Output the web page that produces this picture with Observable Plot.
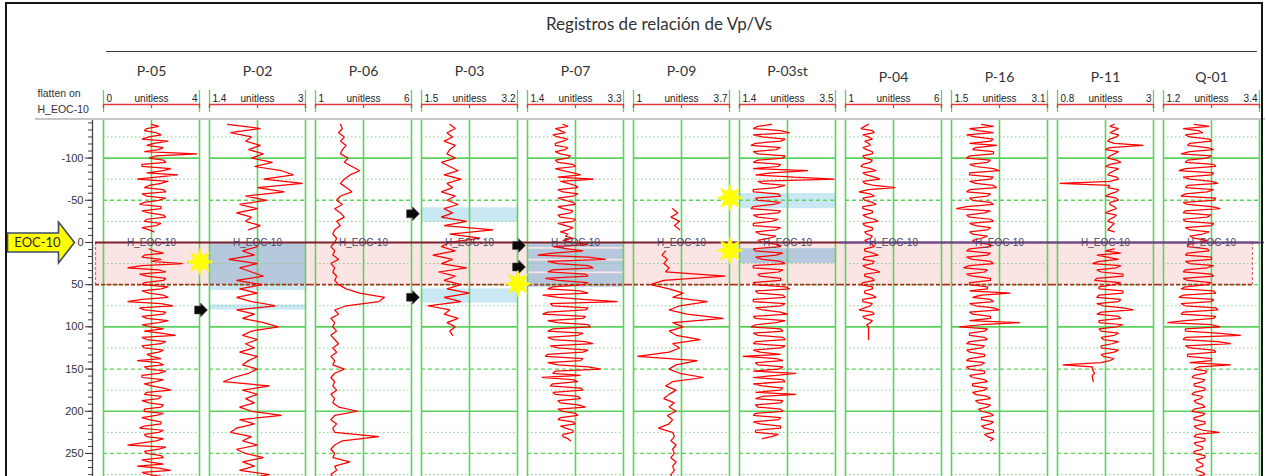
<!DOCTYPE html>
<html><head><meta charset="utf-8">
<script src="https://cdn.jsdelivr.net/npm/d3@7"></script>
<script src="https://cdn.jsdelivr.net/npm/@observablehq/plot@0.6"></script>
<style>
html,body{margin:0;padding:0;background:#fff;}
#wrap{position:relative;width:1267px;height:476px;overflow:hidden;background:#fff;font-family:"Liberation Sans",Arial,sans-serif;}
#chart{position:absolute;left:0;top:0;}
.title{position:absolute;left:539px;width:240px;top:13px;text-align:center;font-family:Lato,"Open Sans",sans-serif;font-size:17px;color:#333;white-space:nowrap;}
.hline{position:absolute;height:0;}
.frame{position:absolute;left:5px;top:2px;width:1258px;height:520px;border:2px solid #151515;box-sizing:border-box;pointer-events:none;}
</style></head>
<body>
<div id="wrap">
  <div id="chart"></div>
  <div class="title">Registros de relación de Vp/Vs</div>
  <div class="hline" style="left:106px;top:51px;width:1151px;border-top:1.5px solid #3a3a3a"></div>
  <div class="hline" style="left:35px;top:118px;width:1230px;border-top:2px solid #c6c6c6"></div>
  <div class="frame"></div>
</div>
<script>
// ---------- data ----------
const wells    = ["P-05","P-02","P-06","P-03","P-07","P-09","P-03st","P-04","P-16","P-11","Q-01"];
const scaleMin = [0, 1.4, 1, 1.5, 1.4, 1, 1.4, 1, 1.5, 0.8, 1.2];
const scaleMax = [4, 3, 6, 3.2, 3.3, 3.7, 3.5, 6, 3.1, 3, 3.4];
const scaleUnit = "unitless";
const horizonName = "H_EOC-10";
const zoneTop = 0, zoneBase = 50;             // H_EOC-10 and base of highlighted zone
const depthStart = -140, depthStep = 5;       // samples at -140, -135, ...
const midStart = -137.5;                      // in-between samples at -137.5, -132.5, ...

const vpvsP05 = [2.0,1.8,2.2,1.9,2.7,1.8,2.3,3.9,1.9,2.6,
  1.6,2.5,3.1,1.4,2.4,1.7,2.6,1.8,2.3,1.5,
  2.4,1.9,2.6,1.7,2.2,1.9,null,null,null,null,
  2.1,1.7,2.4,3.3,1.0,2.6,1.8,2.5,1.6,2.4,
  1.9,2.7,1.0,2.9,1.7,2.5,1.8,2.3,2.0,1.7,
  3.0,1.8,2.4,1.7,2.3,2.0,1.4,2.5,1.9,2.3,
  1.6,2.2,2.0,2.8,1.7,2.3,1.9,2.4,1.7,2.2,
  1.9,2.4,1.5,2.3,1.8,2.2,1.0,2.3,1.8,2.5,
  1.9,1.4,2.8,1.9,2.2];
const vpvsP05mid = [2.3,1.7,2.4,1.6,2.1,2.5,1.7,2.2,2.5,1.6,
  2.8,1.8,2.2,2.7,1.9,2.5,1.6,2.6,1.7,2.4,
  1.6,2.5,1.8,2.4,1.6,2.1,null,null,null,1.9,
  2.5,1.6,2.0,1.6,2.3,1.5,2.6,1.7,2.7,1.6,
  2.5,1.6,2.4,1.5,2.6,1.6,2.7,1.6,2.5,2.4,
  1.6,2.6,1.6,2.5,1.8,2.4,2.3,1.7,2.6,1.6,
  2.5,1.7,2.5,1.8,2.4,1.6,2.5,1.7,2.5,1.6,
  2.4,1.7,2.5,1.7,2.5,1.6,2.6,1.7,2.4,1.6,
  2.5,2.3,1.6,2.5,1.7];
const vpvsP02 = [1.7,2.25,1.75,2.1,2.0,2.25,2.05,2.3,2.1,2.45,
  2.15,2.6,2.8,2.3,2.95,2.2,2.65,2.0,2.35,1.9,
  2.2,1.85,2.1,2.0,2.25,2.05,null,null,null,2.2,
  1.95,2.15,1.72,2.2,1.9,2.1,2.3,1.85,2.28,1.9,
  2.2,1.85,2.1,2.5,1.85,2.15,1.95,2.3,2.55,2.1,
  1.95,2.2,2.0,2.15,1.9,2.2,2.05,1.95,2.2,2.05,
  1.8,1.63,2.4,1.95,2.2,2.0,2.15,1.9,2.1,2.6,
  1.9,2.15,1.85,1.75,2.1,1.95,2.2,1.85,2.0,2.3,
  1.95,2.15,1.9,2.4,2.0];
const vpvsP06 = [2.3,2.4,2.2,2.5,2.3,2.6,2.4,2.3,2.7,2.5,
  2.9,3.3,2.8,2.5,2.3,2.6,2.9,2.3,2.1,2.4,
  2.0,2.3,2.5,2.1,2.3,2.0,1.9,2.1,2.0,1.8,
  2.0,1.9,2.2,1.8,2.0,1.9,2.1,2.0,2.2,2.6,
  3.3,4.6,4.3,2.6,2.0,2.2,1.8,2.0,1.9,2.1,
  1.8,2.0,2.2,1.9,2.1,1.8,2.0,1.9,2.5,2.0,
  1.8,2.0,1.9,2.1,1.8,2.0,1.9,2.2,3.2,2.0,
  1.8,2.1,1.9,2.0,4.3,2.4,2.0,1.8,2.0,1.9,
  2.8,2.0,2.1,1.8,2.0];
const vpvsP03 = [2.0,2.1,1.95,2.05,1.9,2.1,2.0,1.95,2.1,1.85,
  2.0,2.15,1.9,2.2,1.95,2.05,1.85,2.1,1.95,2.15,
  1.9,2.05,1.85,2.3,1.9,2.77,2.0,2.54,2.0,1.85,
  2.1,1.7,2.05,1.85,2.3,1.8,2.1,1.9,2.2,1.95,
  2.35,1.9,2.2,1.61,2.0,1.9,2.15,1.95,2.1,2.0,
  2.05];
const vpvsP07 = [2.1,1.95,2.15,2.0,2.1,1.95,2.15,2.05,2.2,2.0,
  2.35,2.1,2.45,2.71,2.2,2.4,2.1,2.3,2.15,2.35,
  2.1,2.25,2.05,2.3,2.15,2.2,2.2,2.3,2.3,1.9,
  2.5,1.6,2.95,2.0,2.7,1.8,2.6,2.0,2.5,1.8,
  2.6,2.0,3.18,1.9,2.55,1.7,2.5,2.0,2.65,1.8,
  2.4,1.9,2.7,2.0,2.5,1.75,2.45,2.0,2.85,1.9,
  1.68,2.4,1.85,2.5,1.95,2.45,2.05,2.55,2.1,2.4,
  2.0,2.35,2.15,2.3,2.1,2.25];
const vpvsP07mid = [2.2,2.05,1.9,2.2,1.95,2.2,1.95,2.25,1.95,2.3,
  1.95,2.3,2.0,2.05,2.35,2.0,2.4,2.0,2.3,2.0,
  2.3,2.0,2.35,2.0,2.3,2.05,2.15,2.1,2.6,2.2,
  1.9,2.6,1.8,2.6,1.9,2.55,1.75,2.6,1.9,2.45,
  1.7,2.5,1.85,2.6,1.8,2.55,1.8,2.6,1.9,2.5,
  1.8,2.55,1.85,2.6,1.8,2.5,1.8,2.6,1.95,2.45,
  2.3,1.9,2.45,1.9,2.4,2.0,2.4,2.0,2.35,2.05,
  2.3,2.05,2.3,2.1,2.2];
const vpvsP09 = [null,null,null,null,null,null,null,null,null,null,
  null,null,null,null,null,null,null,null,null,null,
  2.1,2.25,2.05,2.3,2.15,2.3,null,null,null,null,
  1.9,1.8,1.95,1.85,2.0,1.9,3.58,1.85,1.48,2.0,
  2.4,2.1,3.08,2.3,2.0,2.5,3.53,2.1,2.4,2.0,
  2.2,2.88,2.1,2.3,2.0,1.11,2.8,2.2,2.0,2.3,
  2.97,2.1,1.9,2.2,2.0,1.85,2.15,2.0,2.2,1.95,
  2.1,2.0,1.7,2.1,2.15,2.05,2.2,2.1,2.15,2.05,
  2.2,2.1,2.15,2.05,2.1];
const vpvsP03st = [2.1,1.7,2.5,1.9,2.3,1.65,2.2,1.8,2.35,1.7,
  2.25,2.9,1.75,3.48,1.9,2.2,1.7,2.3,1.8,2.15,
  1.65,2.25,1.8,2.1,1.7,2.2,1.85,2.05,1.9,2.3,
  1.75,2.2,1.9,2.4,1.7,2.25,1.85,2.3,1.75,2.5,
  1.8,2.4,1.7,2.3,1.9,2.45,1.75,2.2,1.65,2.35,
  1.8,2.4,1.7,2.3,1.85,1.47,2.35,1.8,2.25,2.64,
  1.7,2.4,1.9,2.3,2.64,1.75,2.3,1.8,2.35,1.7,
  2.25,1.85,2.3,1.75,2.1];
const vpvsP03stMid = [1.8,2.3,1.7,2.4,1.75,2.3,1.7,2.4,1.8,2.3,
  1.7,2.1,2.6,1.8,2.4,1.7,2.25,1.75,2.3,1.7,
  2.3,1.7,2.25,1.7,2.3,1.75,2.2,1.8,2.25,1.7,
  2.35,1.75,2.3,1.7,2.35,1.8,2.3,1.7,2.4,1.75,
  2.35,1.7,2.4,1.75,2.3,1.7,2.4,1.75,2.3,1.7,
  2.35,1.75,2.4,1.7,2.3,2.2,1.75,2.35,1.7,2.2,
  2.35,1.7,2.35,1.75,1.9,2.35,1.75,2.3,1.75,2.3,
  1.7,2.3,1.75,2.25,1.9];
const vpvsP04 = [2.2,1.8,2.5,2.2,2.0,2.3,2.1,2.4,2.0,2.3,
  1.8,2.6,2.1,2.8,2.0,3.6,1.7,2.5,2.0,2.6,
  1.9,2.4,2.1,2.7,2.0,2.4,2.1,2.3,2.2,2.5,
  2.0,2.7,1.9,2.4,2.1,2.8,2.0,2.5,1.8,2.4,
  2.0,2.6,1.9,2.3,1.7,2.5,2.0,2.3,2.2,2.2,
  2.2,2.2];
const vpvsP04mid = [2.0,2.4,1.9,2.4,2.2,1.9,2.4,1.9,2.4,1.9,
  2.3,1.9,2.5,1.9,2.5,2.2,2.3,1.9,2.4,1.9,
  2.4,1.9,2.5,1.9,2.4,2.0,2.4,2.0,2.4,2.0,
  2.4,2.0,2.5,1.9,2.5,2.0,2.4,1.9,2.4,2.0,
  2.4,1.9,2.4,2.0,2.4,1.9,2.4,2.1,2.2,2.2,
  2.2];
const vpvsP16 = [2.0,1.8,2.2,1.9,2.15,2.26,1.85,2.2,1.75,2.1,
  1.9,2.3,1.8,2.15,1.9,2.25,1.75,2.1,1.85,2.2,
  1.58,2.05,1.8,2.2,1.9,2.1,1.85,2.0,1.9,2.15,
  1.75,2.1,1.85,2.2,1.7,2.05,1.85,2.15,1.8,2.1,
  2.48,1.85,2.2,1.9,2.3,1.85,2.15,2.64,1.63,2.05,
  1.8,2.1,1.75,2.0,1.8,2.05,1.75,2.0,1.8,2.05,
  1.85,2.1,1.85,2.05,1.9,2.15,1.95,2.1,2.0,2.2,
  2.0,2.15,2.05,2.2,2.1,2.15];
const vpvsP16mid = [2.2,1.95,1.75,2.2,1.8,1.9,2.2,1.8,2.15,1.8,
  2.2,1.8,2.2,1.8,2.2,1.8,2.15,1.8,2.15,1.75,
  2.15,1.75,2.15,1.8,2.15,1.8,2.1,1.85,2.15,1.8,
  2.15,1.75,2.15,1.8,2.1,1.75,2.15,1.8,2.1,1.8,
  2.0,2.15,1.8,2.2,1.8,2.15,1.8,2.0,2.1,1.8,
  2.05,1.8,2.05,1.75,2.05,1.8,2.05,1.75,2.05,1.8,
  2.05,1.85,2.1,1.85,2.1,1.9,2.15,1.95,2.15,2.0,
  2.2,2.0,2.2,2.05,2.2];
const vpvsP11 = [2.1,2.2,2.0,2.15,1.95,2.77,1.9,2.1,1.95,2.25,
  1.9,2.1,1.95,2.2,0.85,1.95,2.15,1.9,2.2,2.0,
  2.15,1.9,2.1,1.95,2.05,1.95,null,null,null,null,
  1.9,1.7,2.2,1.6,2.15,1.8,2.3,1.65,2.1,1.75,
  2.3,1.7,2.2,1.85,2.54,1.7,2.25,1.75,2.15,1.8,
  2.1,1.85,2.05,1.8,2.1,1.85,2.0,0.92,1.6,1.65,
  1.6,1.62];
const vpvsP11mid = [2.0,2.1,2.2,2.0,2.1,2.0,2.2,2.0,2.15,2.0,
  2.2,2.0,2.15,2.0,2.0,2.2,2.0,2.15,2.0,2.1,
  2.0,2.15,2.0,2.1,2.0,2.1,null,null,null,2.1,
  2.25,1.95,1.75,2.25,1.7,2.3,1.7,2.25,1.75,2.3,
  1.75,2.25,1.7,2.3,1.8,2.2,1.75,2.3,1.75,2.2,
  1.8,2.2,1.8,2.2,1.8,2.1,1.8,1.6,1.62,1.6,
  1.61];
const vpvsQ01 = [1.9,1.65,2.1,1.8,2.3,1.75,2.35,1.6,2.2,1.7,
  2.4,1.55,2.3,1.8,2.45,1.7,2.2,1.6,2.35,1.75,
  2.5,1.65,2.2,1.7,2.3,1.8,2.1,1.9,2.0,1.75,
  2.25,1.7,2.3,1.8,2.2,1.65,2.35,1.75,2.2,1.6,
  2.4,1.55,2.3,1.7,2.45,1.6,2.35,1.29,2.5,1.7,
  2.97,1.65,2.74,1.8,2.4,1.75,2.3,2.74,1.9,2.15,
  1.85,2.1,1.9,2.15,1.85,2.05,1.95,2.15,1.85,2.1,
  1.9,2.15,1.95,2.48,1.9,2.15,1.95,2.1,1.9,2.15,
  2.0,2.1,1.95,2.15,2.0];
const vpvsQ01mid = [2.25,2.0,1.7,2.25,1.8,2.2,1.8,2.3,1.75,2.35,
  1.7,2.35,1.65,2.3,1.75,2.35,1.7,2.4,1.65,2.3,
  1.7,2.3,1.65,2.35,1.7,2.25,1.8,2.2,1.75,2.2,
  1.75,2.3,1.7,2.35,1.7,2.3,1.65,2.3,1.7,2.35,
  1.65,2.35,1.6,2.4,1.65,2.4,1.7,2.3,1.7,2.45,
  1.7,2.45,1.7,2.35,1.75,2.3,1.8,2.0,2.2,1.9,
  2.15,1.9,2.15,1.9,2.1,1.9,2.1,1.9,2.15,1.9,
  2.15,1.9,2.1,1.95,2.15,1.9,2.1,1.9,2.15,1.95,
  2.1,1.95,2.1,1.95,2.1];
const seriesByWell = [vpvsP05,vpvsP02,vpvsP06,vpvsP03,vpvsP07,vpvsP09,vpvsP03st,vpvsP04,vpvsP16,vpvsP11,vpvsQ01];
const midByWell    = [vpvsP05mid,[],[],[],vpvsP07mid,[],vpvsP03stMid,vpvsP04mid,vpvsP16mid,vpvsP11mid,vpvsQ01mid];

// highlighted intervals
const bandWell = ["P-02","P-02","P-02","P-03","P-03","P-07","P-07","P-07","P-07","P-03st","P-03st"];
const bandTop  = [1, 50, 74, -41, 55, 0, 8, 22, 37, -58, 7.5];
const bandBase = [50, 57, 80, -24, 72, 6, 20, 35, 53, -40, 25];
const bandKind = ["steel","cyan","cyan","cyan","cyan","steel","steel","steel","steel","cyan","steel"];

// annotation markers (placed on the left edge of the given well's track)
const arrowWell  = ["P-02","P-03","P-03","P-07","P-07"];
const arrowDepth = [80, -34, 65, 3.5, 29];
const starWell   = ["P-02","P-07","P-03st","P-03st"];
const starDepth  = [23, 49, -53, 9.5];

// depth axis / grid
const depthTicks = [-100, -50, 0, 50, 100, 150, 200, 250];
const gridSolid  = [-100, 100, 200];
const gridDashed = [-50, 50, 150, 250];
const gridDotted = [-125, -75, -25, 25, 75, 125, 175, 225, 275];
const rightHorizonWells = ["P-04","P-16","P-11","Q-01"];

// ---------- tables ----------
const wellRows = wells.map((w, i) => ({well: w, min: scaleMin[i], max: scaleMax[i], low: i >= 7}));
const toRow = (w, i, start) => (v, j) => ({
  well: w, depth: start + j * depthStep, vpvs: v,
  pos: v == null ? NaN : (v - scaleMin[i]) / (scaleMax[i] - scaleMin[i])
});
const logRows = wells.flatMap((w, i) => d3.sort(
  seriesByWell[i].map(toRow(w, i, depthStart)).concat(midByWell[i].map(toRow(w, i, midStart))),
  d => d.depth));
const bandRows = bandWell.map((w, i) => ({well: w, top: bandTop[i], base: bandBase[i], kind: bandKind[i]}));
const arrowRows = arrowWell.map((w, i) => ({well: w, depth: arrowDepth[i]}));
const starRows = starWell.map((w, i) => ({well: w, depth: starDepth[i]}));
const zoneRows = wells.map(w => ({well: w, top: zoneTop, base: zoneBase}));
const minorTicks = d3.range(-17, 34).map(k => k * 50 / 6);

// marks that must run continuously across the gaps between tracks
const G = 5.05;
const spanGroups = [
  {wells: wells.slice(0, 1), insetLeft: -8, insetRight: -G},
  {wells: wells.slice(1, -1), insetLeft: -G, insetRight: -G},
  {wells: wells.slice(-1), insetLeft: -G, insetRight: 7}
];
const span = (make, lastRight) => spanGroups.map((g, k) => make(
  zoneRows.filter(d => g.wells.includes(d.well)),
  {insetLeft: g.insetLeft, insetRight: (k === 2 && lastRight !== undefined) ? lastRight : g.insetRight}
));

// ---------- symbols ----------
const star8 = {draw(ctx, size) {
  const R = Math.sqrt(size / Math.PI), r = R * 0.5;
  for (let i = 0; i < 16; i++) {
    const a = i * Math.PI / 8 - Math.PI / 2, rr = i % 2 ? r : R;
    const x = rr * Math.cos(a), y = rr * Math.sin(a);
    i ? ctx.lineTo(x, y) : ctx.moveTo(x, y);
  }
  ctx.closePath();
}};
const blockArrow = {draw(ctx, size) {
  const s = Math.sqrt(size / Math.PI) / 7;
  const p = [[-6.5,-4],[-0.5,-4],[-0.5,-7],[6.5,0],[-0.5,7],[-0.5,4],[-6.5,4]];
  p.forEach(([x, y], i) => i ? ctx.lineTo(x*s, y*s) : ctx.moveTo(x*s, y*s));
  ctx.closePath();
}};
const bigArrow = {draw(ctx) {
  const p = [[-34,-9.5],[17,-9.5],[17,-20.5],[33,0],[17,20.5],[17,9.5],[-34,9.5]];
  p.forEach(([x, y], i) => i ? ctx.lineTo(x, y) : ctx.moveTo(x, y));
  ctx.closePath();
}};

const yTop = -144.5, yBottom = 277.3;
const green = "#5cd25c", red = "#ff0000", hdrRed = "#e23b3b";
const fontMain = "Liberation Sans, Arial, sans-serif";
const fontHead = "Lato, Open Sans, sans-serif";
const fmt = v => String(v);
const hdr = {frameAnchor: "top", lineAnchor: "middle"};

const chart = Plot.plot({
  width: 1267, height: 476,
  marginTop: 120, marginBottom: 0, marginLeft: 103, marginRight: 5,
  fx: {domain: wells, paddingInner: 0.094, paddingOuter: 0, align: 0, axis: null},
  x: {domain: [0, 1], axis: null},
  y: {domain: [yTop, yBottom], reverse: true, axis: null},
  style: {background: "transparent", fontFamily: fontMain, fontSize: "10px", color: "#222"},
  marks: [
    // highlighted zone (H_EOC-10 to base)
    ...span((data, o) => Plot.rect(data, {fx: "well", x1: 0, x2: 1, y1: "top", y2: "base", ...o, fill: "#fbe4e4"})),
    // intervals of interest
    Plot.rect(bandRows, {fx: "well", x1: 0, x2: 1, y1: "top", y2: "base", fill: d => d.kind === "steel" ? "#b6c8dc" : "#c9e8f4"}),
    // grid
    Plot.ruleY(gridDotted, {stroke: "#78d878", strokeWidth: 1, strokeDasharray: "1.5,2.5"}),
    Plot.ruleY(gridDashed, {stroke: green, strokeWidth: 1.3, strokeDasharray: "4,3"}),
    Plot.ruleY(gridSolid, {stroke: green, strokeWidth: 1.7}),
    Plot.ruleX([0, 0.5, 1], {stroke: green, strokeWidth: 1.6}),
    // zone outline
    Plot.ruleX(zoneRows.slice(0, 1), {fx: "well", x: 0, y1: "top", y2: "base", dx: -8, stroke: "#e06a6a", strokeWidth: 1.2, strokeDasharray: "3,2"}),
    Plot.ruleX(zoneRows.slice(-1), {fx: "well", x: 1, y1: "top", y2: "base", dx: -7, stroke: "#e06a6a", strokeWidth: 1.2, strokeDasharray: "3,2"}),
    ...span((data, o) => Plot.ruleY(data, {fx: "well", y: "base", ...o, stroke: "#a8321c", strokeWidth: 1.8, strokeDasharray: "4,2"})),
    // Vp/Vs logs
    Plot.line(logRows, {fx: "well", x: "pos", y: "depth", z: "well", stroke: red, strokeWidth: 1.25, strokeLinejoin: "miter"}),
    // horizon
    ...span((data, o) => Plot.ruleY(data, {fx: "well", y: "top", ...o, stroke: "#7e1f2c", strokeWidth: 2}), 0),
    Plot.ruleY(zoneRows.filter(d => rightHorizonWells.includes(d.well)), {fx: "well", y: "top", insetLeft: -G, insetRight: -G, stroke: "#5a4aa0", strokeWidth: 1.5}),
    Plot.text(wellRows, {fx: "well", x: 0.5, y: () => zoneTop, text: () => horizonName, fill: "#4d4466", fontSize: 10}),
    // header: well names
    Plot.text(wellRows.filter(d => !d.low), {fx: "well", x: 0.5, text: "well", ...hdr, dy: -49, fontFamily: fontHead, fontSize: 14, fill: "#333"}),
    Plot.text(wellRows.filter(d => d.low), {fx: "well", x: 0.5, text: "well", ...hdr, dy: -43, fontFamily: fontHead, fontSize: 14, fill: "#333"}),
    // header: scale
    Plot.ruleX([0, 1], {y1: yTop, y2: yTop, insetTop: -30, insetBottom: 8, stroke: green, strokeWidth: 1.3}),
    Plot.ruleY([yTop], {x1: 0, x2: 1, dy: -16, stroke: hdrRed, strokeWidth: 1.3}),
    Plot.ruleX([0, 0.5, 1], {y1: yTop, y2: yTop, insetTop: -16, insetBottom: 12, stroke: hdrRed, strokeWidth: 1.3}),
    Plot.text(wellRows, {fx: "well", x: 0, text: d => fmt(d.min), ...hdr, dy: -22, dx: 3, textAnchor: "start", fontSize: 10, fill: "#222"}),
    Plot.text(wellRows, {fx: "well", x: 1, text: d => fmt(d.max), ...hdr, dy: -22, dx: -2, textAnchor: "end", fontSize: 10, fill: "#222"}),
    Plot.text(wellRows, {fx: "well", x: 0.5, text: () => scaleUnit, ...hdr, dy: -22, fontSize: 10, fill: "#222"}),
    // left header / flatten label
    Plot.text(["flatten on"], {fx: () => "P-05", frameAnchor: "top-left", lineAnchor: "middle", text: d => d, dx: -66, dy: -27, textAnchor: "start", fontSize: 10.5, fill: "#333"}),
    Plot.text([horizonName], {fx: () => "P-05", frameAnchor: "top-left", lineAnchor: "middle", text: d => d, dx: -66, dy: -11, textAnchor: "start", fontSize: 10.5, fill: "#333"}),
    // annotations
    Plot.dot(arrowRows, {fx: "well", x: 0, y: "depth", dx: -8.5, r: 7, symbol: blockArrow, fill: "#0a0a0a", stroke: "#555", strokeWidth: 0.5}),
    Plot.dot(starRows, {fx: "well", x: 0, y: "depth", dx: -9.5, r: 13.5, symbol: star8, fill: "#ffff00", stroke: "#f4ee40", strokeWidth: 0.5}),
    Plot.dot([zoneTop], {fx: () => "P-05", y: d => d, frameAnchor: "left", dx: -62, r: 10, symbol: bigArrow, fill: "#ffff00", stroke: "#3d4c6c", strokeWidth: 1.6}),
    Plot.text(["EOC-10"], {fx: () => "P-05", y: () => zoneTop, frameAnchor: "left", textAnchor: "middle", dx: -66, text: d => d, fontFamily: fontHead, fontSize: 13, fill: "#2a2a2a"}),
    // depth axis
    Plot.ruleX([0], {fx: () => "P-05", dx: -11, stroke: "#444", strokeWidth: 1.3}),
    Plot.axisY(minorTicks, {anchor: "left", tickSize: 4, tickFormat: () => "", dx: -11, color: "#444"}),
    Plot.axisY(depthTicks, {anchor: "left", tickSize: 7, tickPadding: 2, dx: -11, tickFormat: d => String(d), fontSize: 11, color: "#333"})
  ]
});
document.getElementById("chart").append(chart);
</script>
</body></html>
